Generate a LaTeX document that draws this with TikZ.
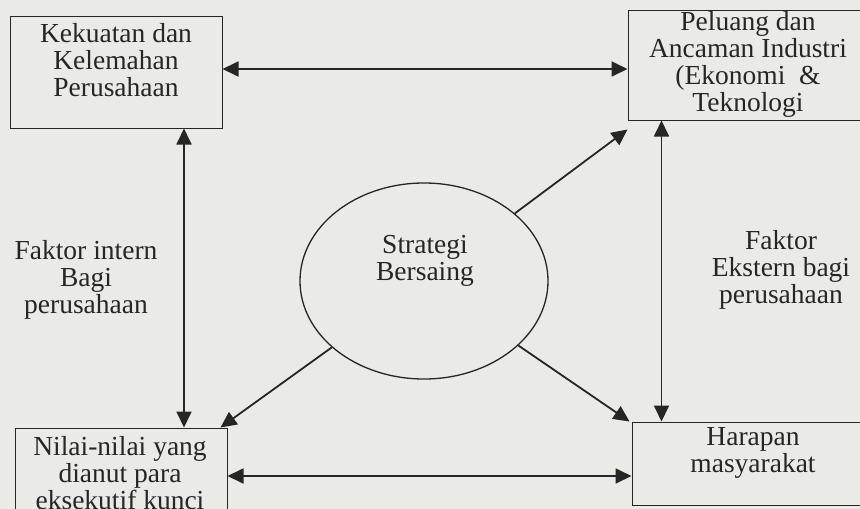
\documentclass[tikz,border=0pt]{standalone}
\usepackage{fontspec}
\setmainfont{Liberation Serif}
\usetikzlibrary{arrows.meta, positioning, shapes.geometric}
\definecolor{paper}{RGB}{234,234,231}
\definecolor{ink}{RGB}{38,38,38}

\begin{document}
\begin{tikzpicture}[x=1pt,y=-1pt,
	box/.style={draw=ink,line width=1pt,rectangle,inner sep=0pt},
	txt/.style={ink,align=center,inner sep=0pt,font=\fontsize{27.5}{27}\selectfont},
	duo/.style={ink,line width=1.8pt,{Triangle[length=16pt,width=15pt]}-{Triangle[length=16pt,width=15pt]}},
	arr/.style={ink,line width=1.8pt,-{Triangle[length=16pt,width=15pt]}}]
	% page
	\fill[paper] (0,0) rectangle (860,509);
	\clip (0,0) rectangle (860,509);
	% boxes
	\node[box,minimum width=212pt,minimum height=112pt] (kekuatan) at (116,72) {};
	\node[box,minimum width=252pt,minimum height=110pt] (peluang) at (754,65) {};
	\node[box,minimum width=212pt,minimum height=96pt] (nilai) at (121,476) {};
	\node[box,minimum width=248pt,minimum height=83pt] (harapan) at (756,463.5) {};
	\node[draw=ink,line width=1.3pt,ellipse,minimum width=248pt,minimum height=196pt,inner sep=0pt] (strategi) at (424,281) {};
	% box texts
	\node[txt] (kekuatantxt) at (116,60) {Kekuatan dan\\Kelemahan\\Perusahaan};
	\node[txt] (peluangtxt) at (748,64) {Peluang dan\\Ancaman Industri\\(Ekonomi~ \&\\Teknologi};
	\node[txt] (nilaitxt) at (120,473) {Nilai-nilai yang\\dianut para\\eksekutif kunci};
	\node[txt] (harapantxt) at (753,453) {Harapan\\masyarakat};
	\node[txt] (strategitxt) at (425,261) {Strategi\\Bersaing};
	% side labels
	\node[txt] (intern) at (86,280) {Faktor intern\\Bagi\\perusahaan};
	\node[txt] (ekstern) at (781,270) {Faktor\\Ekstern bagi\\perusahaan};
	% two-way links
	\draw[duo] ([yshift=3pt]kekuatan.east) -- ([yshift=3pt]kekuatan.east -| peluang.west);
	\draw[duo] (nilai.east) -- (nilai.east -| harapan.west);
	\draw[duo] ([xshift=68pt]kekuatan.south) -- ([xshift=68pt]kekuatan.south |- nilai.north);
	\draw[duo] ([xshift=34pt]peluang.south west) -- ([xshift=34pt]peluang.south west |- harapan.north);
	% from the strategy outwards
	\draw[arr] (strategi) -- ([yshift=-9pt]peluang.south west);
	\draw[arr] (strategi) -- ([xshift=-7pt]nilai.north east);
	\draw[arr] (strategi) -- ([xshift=-2pt]harapan.north west);
\end{tikzpicture}
\end{document}
